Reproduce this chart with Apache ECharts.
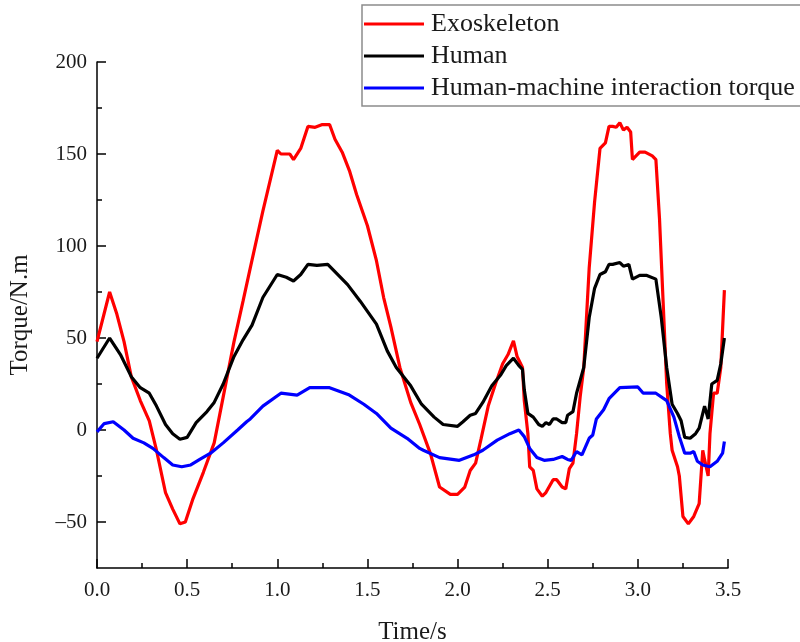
<!DOCTYPE html>
<html>
<head>
<meta charset="utf-8">
<title>Torque</title>
<script src="https://cdn.jsdelivr.net/npm/echarts@6/dist/echarts.min.js"></script>
<style>
    html, body { margin: 0; padding: 0; background: #ffffff; }
    #chart { width: 800px; height: 642px; }
</style>
</head>
<body>
<div id="chart"></div>
<script>
// data (time in s, torque in N.m)
var exoTime = [0.00, 0.07, 0.11, 0.15, 0.19, 0.24, 0.29, 0.33, 0.38, 0.42, 0.46, 0.49, 0.53, 0.59, 0.65, 0.70, 0.76, 0.81, 0.85, 0.92,
    1.00, 1.02, 1.07, 1.09, 1.13, 1.17, 1.21, 1.25, 1.29, 1.32, 1.36, 1.40, 1.44, 1.50, 1.55, 1.59, 1.63, 1.68, 1.74, 1.79,
    1.85, 1.90, 1.96, 2.00, 2.04, 2.07, 2.10, 2.13, 2.17, 2.21, 2.25, 2.28, 2.31, 2.33, 2.36, 2.37, 2.39, 2.40, 2.42, 2.44,
    2.47, 2.49, 2.50, 2.53, 2.55, 2.58, 2.60, 2.62, 2.64, 2.66, 2.68, 2.70, 2.73, 2.76, 2.79, 2.82, 2.84, 2.86, 2.88, 2.90,
    2.92, 2.94, 2.96, 2.97, 3.01, 3.04, 3.08, 3.10, 3.11, 3.12, 3.14, 3.16, 3.18, 3.19, 3.22, 3.23, 3.25, 3.28, 3.31, 3.34,
    3.36, 3.37, 3.39, 3.40, 3.42, 3.44, 3.46, 3.48];
var exoTorque = [48, 75, 63, 48, 29, 16, 5, -11, -34, -43, -51, -50, -38, -23, -7, 18, 48, 70, 88, 119,
    152, 150, 150, 147, 153, 165, 164.5, 166, 166, 158, 151, 141, 128, 111, 92, 72, 56, 34, 15, 3,
    -13, -31, -35, -35, -31, -22, -18, -5, 13, 25, 36, 41, 48.5, 40, 34, 16, -2, -20, -22, -32,
    -36, -34, -34, -27, -27, -31, -32, -21, -18, -2, 18, 34, 88, 124, 153, 156, 165, 165, 164.5, 167,
    163, 164.5, 162, 147, 151, 151, 149, 147, 148, 115, 70, 25, -2, -11, -20, -25, -47, -51, -47, -40,
    -11, -16, -25, -2, 20, 20, 34, 76];

var humanTime = [0.00, 0.07, 0.13, 0.19, 0.24, 0.29, 0.33, 0.38, 0.42, 0.46, 0.50, 0.55, 0.61, 0.65, 0.70, 0.76, 0.81, 0.86, 0.92,
    1.00, 1.05, 1.09, 1.13, 1.17, 1.22, 1.28, 1.31, 1.39, 1.46, 1.55, 1.61, 1.66, 1.74, 1.80, 1.87, 1.92,
    2.00, 2.03, 2.07, 2.10, 2.14, 2.19, 2.24, 2.27, 2.31, 2.34, 2.36, 2.37, 2.39, 2.42, 2.45, 2.47, 2.49,
    2.51, 2.53, 2.55, 2.58, 2.60, 2.61, 2.64, 2.66, 2.70, 2.73, 2.76, 2.79, 2.82, 2.84, 2.86, 2.90, 2.92,
    2.95, 2.97, 3.01, 3.05, 3.10, 3.11, 3.13, 3.16, 3.19, 3.22, 3.24, 3.26, 3.29, 3.32, 3.34, 3.37, 3.39,
    3.41, 3.44, 3.46, 3.48];
var humanTorque = [39, 50, 41, 29, 23, 20, 13, 3, -2, -5, -4, 4, 10, 15, 25, 40, 49, 57, 72,
    84.5, 83, 81, 84.5, 90, 89.5, 90, 87, 79, 70, 57.5, 43, 34, 24, 14, 7, 3,
    2, 4.5, 8, 9, 15, 24, 30, 35, 39, 35, 33, 22, 9, 7, 3, 2, 4,
    3, 6, 6, 4, 4, 8, 10, 20, 34, 61, 77, 84.5, 86, 90, 90, 91, 89,
    90, 82, 84, 84, 82, 81, 61, 34, 14, 9, 5, -4, -4.5, -2, 1, 13, 6,
    25, 27, 36, 50];

var hmiTime = [0.00, 0.04, 0.09, 0.15, 0.20, 0.26, 0.31, 0.37, 0.42, 0.47, 0.52, 0.57, 0.63, 0.70, 0.78, 0.83, 0.85, 0.92,
    1.02, 1.11, 1.18, 1.29, 1.40, 1.48, 1.55, 1.63, 1.72, 1.79, 1.81, 1.90,
    2.01, 2.09, 2.14, 2.22, 2.29, 2.34, 2.37, 2.40, 2.44, 2.48, 2.53, 2.58, 2.61, 2.63, 2.66, 2.69,
    2.73, 2.75, 2.77, 2.81, 2.84, 2.90, 3.00, 3.03, 3.10, 3.16, 3.20, 3.23, 3.26, 3.29, 3.31, 3.33,
    3.36, 3.40, 3.44, 3.47, 3.48];
var hmiTorque = [-1, 3.5, 4.5, 0, -4.5, -7, -10, -15, -19, -20, -19, -16, -12.6, -7, 0, 4.5, 6, 13,
    20, 19, 23, 23, 19, 14, 9, 1, -4.5, -10, -11, -15,
    -16.5, -13.5, -11, -5.5, -2, 0, -3.6, -10, -15, -16.5, -16, -14.4, -16, -16.5, -11.7, -13.5,
    -4.5, -2.7, 6, 11, 17, 23, 23.4, 20, 20, 16, 7, -3.6, -12.6, -12.6, -11.7, -17,
    -19, -20, -17, -12.6, -6.3];

var seriesNames = ["Exoskeleton", "Human", "Human-machine interaction torque"];
var yMajorTicks = [-50, 0, 50, 100, 150, 200];
var yMinorTicks = [-25, 25, 75, 125, 175];

document.addEventListener("DOMContentLoaded", function () {
    var font = "'Liberation Serif', 'Times New Roman', serif";

    function pairs(times, values) {
        return times.map(function (t, i) {
            return [t, values[i]];
        });
    }

    function lineSeries(name, data, color) {
        return {
            name: name,
            type: "line",
            data: data,
            showSymbol: false,
            symbol: "none",
            smooth: false,
            silent: true,
            lineStyle: { color: color, width: 3.2 },
            itemStyle: { color: color },
        };
    }

    var chartDom = document.getElementById("chart");
    var myChart = echarts.init(chartDom, null, { renderer: "canvas" });

    var axisLine = { show: true, onZero: false, lineStyle: { color: "#000000", width: 1.5 } };
    var tickStyle = { color: "#000000", width: 1.5 };

    var option = {
        backgroundColor: "#ffffff",
        animation: false,
        textStyle: { fontFamily: font },
        grid: {
            left: 97,
            right: 72,
            top: 62,
            bottom: 74,
            containLabel: false,
            outerBoundsMode: "none",
        },
        legend: {
            orient: "vertical",
            left: 362,
            top: 5,
            padding: [6, 30, 5, 2],
            icon: "rect",
            itemWidth: 60,
            itemHeight: 3,
            itemGap: 6,
            backgroundColor: "#ffffff",
            borderColor: "#8c8c8c",
            borderWidth: 1.5,
            borderRadius: 0,
            textStyle: { fontFamily: font, fontSize: 26, color: "#1a1a1a", padding: [0, 0, 0, 2] },
            data: seriesNames,
        },
        xAxis: {
            type: "value",
            min: 0,
            max: 3.5,
            interval: 0.5,
            name: "Time/s",
            nameLocation: "middle",
            nameGap: 52,
            nameTextStyle: { fontFamily: font, fontSize: 25, color: "#1a1a1a" },
            axisLine: axisLine,
            axisTick: { show: true, inside: false, length: -9, lineStyle: tickStyle },
            minorTick: { show: true, splitNumber: 2, length: -5, lineStyle: tickStyle },
            splitLine: { show: false },
            axisLabel: {
                margin: 12,
                fontFamily: font,
                fontSize: 21,
                color: "#1a1a1a",
                formatter: function (v) {
                    return v.toFixed(1);
                },
            },
        },
        yAxis: [
            {
                type: "value",
                min: -75,
                max: 200,
                name: "Torque/N.m",
                nameLocation: "middle",
                nameGap: 64,
                nameRotate: 90,
                nameTextStyle: { fontFamily: font, fontSize: 25, color: "#1a1a1a" },
                axisLine: axisLine,
                axisTick: {
                    show: true,
                    inside: false,
                    length: -9,
                    customValues: yMajorTicks,
                    lineStyle: tickStyle,
                },
                splitLine: { show: false },
                axisLabel: {
                    margin: 10,
                    customValues: yMajorTicks,
                    fontFamily: font,
                    fontSize: 21,
                    color: "#1a1a1a",
                    formatter: function (v) {
                        return v < 0 ? "\u2013" + Math.abs(v) : String(v);
                    },
                },
            },
            {
                type: "value",
                min: -75,
                max: 200,
                position: "left",
                axisLine: { show: false },
                axisTick: {
                    show: true,
                    inside: false,
                    length: -5,
                    customValues: yMinorTicks,
                    lineStyle: tickStyle,
                },
                axisLabel: { show: false },
                splitLine: { show: false },
            },
        ],
        series: [
            lineSeries(seriesNames[0], pairs(exoTime, exoTorque), "#ff0000"),
            lineSeries(seriesNames[1], pairs(humanTime, humanTorque), "#000000"),
            lineSeries(seriesNames[2], pairs(hmiTime, hmiTorque), "#0000ff"),
        ],
    };

    myChart.setOption(option);
});
</script>
</body>
</html>
